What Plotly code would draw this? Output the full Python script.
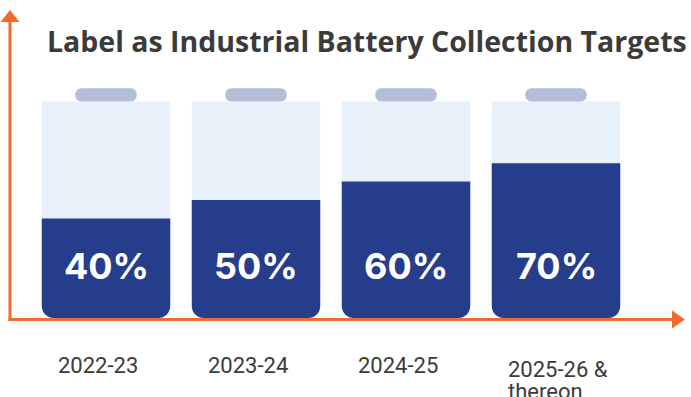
import plotly.graph_objects as go

# ---- data ----
periods = ["2022-23", "2023-24", "2024-25", "2025-26 &<br>thereon"]
targets = [40, 50, 60, 70]
title_text = "Label as Industrial Battery Collection Targets"

# ---- styling / geometry ----
W, H = 691, 397
Y0_PX = 292.0          # pixel row of value 0
PX_PER_UNIT = 1.84     # pixels per percentage point
X0_PX = 106            # pixel column of first battery centre
PX_PER_SLOT = 150      # pixels between battery centres
BOTTOM = -(318 - Y0_PX) / PX_PER_UNIT   # battery base padding below 0
BODY_TOP = 103.5       # battery body top (value units)
CAP_H = 7.3
BAR_W = 128.5 / PX_PER_SLOT
CAP_W = 61.5 / PX_PER_SLOT
RADIUS = 12

BODY_C = "#E8F0F9"
FILL_C = "#263D8B"
CAP_C = "#B3BED8"
AXIS_C = "#F26A2E"
TEXT_C = "#3b3b3b"

yr = [(Y0_PX - H) / PX_PER_UNIT, Y0_PX / PX_PER_UNIT]
xr = [-X0_PX / PX_PER_SLOT, (W - X0_PX) / PX_PER_SLOT]


def px(q):
    return q / W


def py(p):
    return 1 - p / H


xs = list(range(len(periods)))
n = len(xs)

fig = go.Figure()
# battery body
fig.add_trace(go.Bar(x=xs, y=[BODY_TOP] * n, width=BAR_W,
                     marker=dict(color=BODY_C, cornerradius=RADIUS, line=dict(width=0)),
                     hoverinfo="skip"))
# battery cap
fig.add_trace(go.Bar(x=xs, y=[CAP_H] * n, base=[BODY_TOP] * n, width=CAP_W,
                     marker=dict(color=CAP_C, cornerradius=6, line=dict(width=0)),
                     hoverinfo="skip"))
# charge level (value bars)
fig.add_trace(go.Bar(x=xs, y=targets, width=BAR_W,
                     marker=dict(color=FILL_C, cornerradius=0, line=dict(width=0)),
                     hovertext=[f"{t}%" for t in targets], hoverinfo="text"))
# rounded battery base below zero
fig.add_trace(go.Bar(x=xs, y=[BOTTOM] * n, width=BAR_W,
                     marker=dict(color=FILL_C, cornerradius=RADIUS, line=dict(width=0)),
                     hoverinfo="skip"))

annotations = []
label_y = (Y0_PX - 266) / PX_PER_UNIT
for x, t in zip(xs, targets):
    annotations.append(dict(x=x, y=label_y, xref="x", yref="y", text=f"{t}%",
                            showarrow=False, xanchor="center", yanchor="middle",
                            font=dict(family="Inter", size=36, color="white", weight=700)))
LINE_GAP = 22
for x, p in zip(xs, periods):
    lines = p.split("<br>")
    top = 351 + 4 * (len(lines) - 1)
    for i, ln in enumerate(lines):
        annotations.append(dict(x=x, y=py(top + i * LINE_GAP), xref="x", yref="paper", text=ln,
                                showarrow=False, xanchor="left", yanchor="top", align="left",
                                xshift=-50,
                                font=dict(family="Roboto", size=22, color=TEXT_C)))
annotations.append(dict(x=px(367), y=py(41), xref="paper", yref="paper", text=title_text,
                        showarrow=False, xanchor="center", yanchor="middle",
                        font=dict(family="Open Sans", size=28.5, color=TEXT_C, weight=700)))

shapes = [
    dict(type="line", xref="paper", yref="paper", x0=px(10), x1=px(10), y0=py(321), y1=py(20),
         line=dict(color=AXIS_C, width=3)),
    dict(type="path", xref="paper", yref="paper",
         path=f"M {px(10)} {py(10)} L {px(0.5)} {py(22)} L {px(19.5)} {py(22)} Z",
         fillcolor=AXIS_C, line=dict(width=0)),
    dict(type="line", xref="paper", yref="paper", x0=px(8.5), x1=px(674), y0=py(319.5), y1=py(319.5),
         line=dict(color=AXIS_C, width=3)),
    dict(type="path", xref="paper", yref="paper",
         path=f"M {px(685)} {py(319.5)} L {px(672)} {py(310.5)} L {px(672)} {py(328.5)} Z",
         fillcolor=AXIS_C, line=dict(width=0)),
]

fig.update_layout(
    width=W, height=H, margin=dict(l=0, r=0, t=0, b=0),
    paper_bgcolor="white", plot_bgcolor="white",
    barmode="overlay", showlegend=False,
    xaxis=dict(range=xr, visible=False, fixedrange=True),
    yaxis=dict(range=yr, visible=False, fixedrange=True),
    annotations=annotations, shapes=shapes,
)

fig.write_html("out.html")
